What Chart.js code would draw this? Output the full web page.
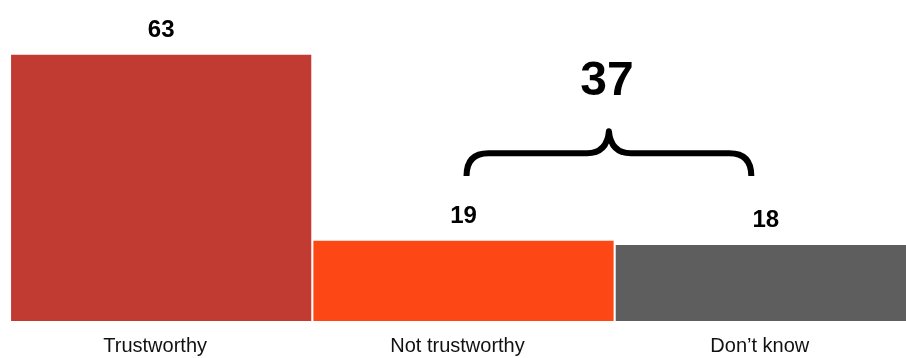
<!DOCTYPE html>
<html lang="en">
<head>
    <meta charset="UTF-8">
    <title>Trustworthy or not</title>
    <script src="https://cdn.jsdelivr.net/npm/chart.js"></script>
    <style>
        html, body { margin: 0; padding: 0; background: #fff; overflow: hidden; }
        #wrap { width: 917px; height: 371px; }
    </style>
</head>
<body>
    <div id="wrap"><canvas id="trustChart"></canvas></div>

    <script>
        // Survey answers
        const answers = ['Trustworthy', 'Not trustworthy', 'Don\u2019t know'];
        const shares = [63, 19, 18];
        const barColors = ['#C23B33', '#FD4815', '#5E5E5E'];

        // The two bars grouped by the brace, and its total
        const groupedIdx = [1, 2];
        const groupedTotal = shares[groupedIdx[0]] + shares[groupedIdx[1]];

        // Value labels above each bar
        const valueLabels = {
            id: 'valueLabels',
            afterDatasetsDraw(chart) {
                const ctx = chart.ctx;
                const meta = chart.getDatasetMeta(0);
                ctx.save();
                ctx.fillStyle = '#000';
                ctx.font = 'bold 24px "Liberation Sans", Arial, sans-serif';
                ctx.textAlign = 'center';
                ctx.textBaseline = 'alphabetic';
                meta.data.forEach((bar, i) => {
                    ctx.fillText(String(shares[i]), bar.x, bar.y - 18);
                });
                ctx.restore();
            }
        };

        // Curly brace spanning the grouped bars, with their sum on top
        const braceLabel = {
            id: 'braceLabel',
            afterDatasetsDraw(chart) {
                const ctx = chart.ctx;
                const x = chart.scales.x;
                const y = chart.scales.y;
                const xl = x.getPixelForValue(groupedIdx[0] + 0.01);
                const xr = x.getPixelForValue(groupedIdx[1] - 0.048);
                const xm = (xl + xr) / 2;
                const yEnd = y.getPixelForValue(34.3);
                const yBar = y.getPixelForValue(39.7);
                const yTip = y.getPixelForValue(44.9);
                const r = 22;

                ctx.save();
                ctx.strokeStyle = '#000';
                ctx.lineWidth = 6;
                ctx.lineCap = 'butt';
                ctx.lineJoin = 'round';
                ctx.beginPath();
                ctx.moveTo(xl, yEnd);
                ctx.quadraticCurveTo(xl, yBar, xl + r, yBar);
                ctx.lineTo(xm - 22, yBar);
                ctx.quadraticCurveTo(xm - 2, yBar, xm, yTip);
                ctx.quadraticCurveTo(xm + 2, yBar, xm + 22, yBar);
                ctx.lineTo(xr - r, yBar);
                ctx.quadraticCurveTo(xr, yBar, xr, yEnd);
                ctx.stroke();

                ctx.fillStyle = '#000';
                ctx.font = 'bold 48px "Liberation Sans", Arial, sans-serif';
                ctx.textAlign = 'center';
                ctx.textBaseline = 'alphabetic';
                ctx.fillText(String(groupedTotal), xm - 2, yTip - 36);
                ctx.restore();
            }
        };

        new Chart(document.getElementById('trustChart'), {
            type: 'bar',
            data: {
                labels: answers,
                datasets: [{
                    data: shares,
                    backgroundColor: barColors,
                    borderWidth: 0,
                    barPercentage: 0.993,
                    categoryPercentage: 1
                }]
            },
            options: {
                responsive: true,
                maintainAspectRatio: false,
                animation: false,
                layout: { padding: { top: 4, left: 10, right: 0, bottom: 0 } },
                plugins: {
                    legend: { display: false },
                    tooltip: { enabled: false }
                },
                scales: {
                    x: {
                        grid: { display: false, drawTicks: false },
                        border: { display: false },
                        ticks: {
                            color: '#111',
                            padding: 13,
                            labelOffset: -6,
                            font: { family: '"Liberation Sans", Arial, sans-serif', size: 20 }
                        }
                    },
                    y: {
                        display: false,
                        min: 0,
                        max: 75
                    }
                }
            },
            plugins: [valueLabels, braceLabel]
        });
    </script>
</body>
</html>
